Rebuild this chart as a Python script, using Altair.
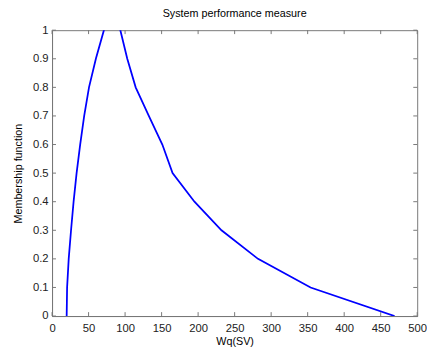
import altair as alt
import pandas as pd

wq = [20, 20.6, 22.8, 26, 29.5, 33.6, 38.5, 44, 50.6, 60, 71, 83, 93.5, 103, 114.5, 132.5, 151, 165, 195, 232, 282, 354, 469]
mu = [0, 0.1, 0.2, 0.3, 0.4, 0.5, 0.6, 0.7, 0.8, 0.9, 1.0, 1.1, 1.0, 0.9, 0.8, 0.7, 0.6, 0.5, 0.4, 0.3, 0.2, 0.1, 0]
x_ticks = [0, 50, 100, 150, 200, 250, 300, 350, 400, 450, 500]
y_ticks = [0, 0.1, 0.2, 0.3, 0.4, 0.5, 0.6, 0.7, 0.8, 0.9, 1]

W, H = 373, 292
df = pd.DataFrame({"wq": wq, "mu": mu, "order": list(range(len(wq)))})
xt = pd.DataFrame({"wq": x_ticks})
yt = pd.DataFrame({"mu": y_ticks})

GRAY = "#777777"
FONT = "Liberation Sans"

xs = alt.Scale(domain=[0, 500], nice=False)
ys = alt.Scale(domain=[0, 1], nice=False)

xaxis = alt.Axis(values=x_ticks, ticks=False, domainColor=GRAY, labelPadding=7,
                 grid=False, titlePadding=2, labelFlush=False, labelOverlap=False,
                 labelExpr="'' + datum.value")
yaxis = alt.Axis(values=y_ticks, ticks=False, domainColor=GRAY, labelPadding=4,
                 grid=False, titlePadding=9, labelFlush=False, labelOverlap=False,
                 labelExpr="'' + round(datum.value * 10) / 10")

X = alt.X("wq:Q", scale=xs, title="Wq(SV)", axis=xaxis)
Y = alt.Y("mu:Q", scale=ys, title="Membership function", axis=yaxis)

line = alt.Chart(df).mark_line(color="#0000ff", strokeWidth=1.8, clip=True).encode(
    x=X, y=Y, order="order:O",
)

bt = alt.Chart(xt).mark_rule(color=GRAY).encode(x=X, y=alt.value(H), y2=alt.value(H - 4))
tt = alt.Chart(xt).mark_rule(color=GRAY).encode(x=X, y=alt.value(0), y2=alt.value(4))
lt = alt.Chart(yt).mark_rule(color=GRAY).encode(y=Y, x=alt.value(0), x2=alt.value(4))
rt = alt.Chart(yt).mark_rule(color=GRAY).encode(y=Y, x=alt.value(W), x2=alt.value(W - 4))

chart = alt.layer(line, bt, tt, lt, rt).properties(
    width=W, height=H,
    title=alt.TitleParams("System performance measure", fontSize=11, font=FONT,
                          fontWeight="normal", color="#000000", offset=5),
    autosize=alt.AutoSizeParams(type="none"),
    padding={"left": 45, "top": 19, "right": 10, "bottom": 30},
).configure_view(stroke=GRAY).configure_axis(
    labelFont=FONT, titleFont=FONT, labelFontSize=11.5, titleFontSize=11,
    labelColor="#222222", titleColor="#000000", titleFontWeight="normal",
)

chart.save("out.html", embed_options={"renderer": "svg", "actions": False})
